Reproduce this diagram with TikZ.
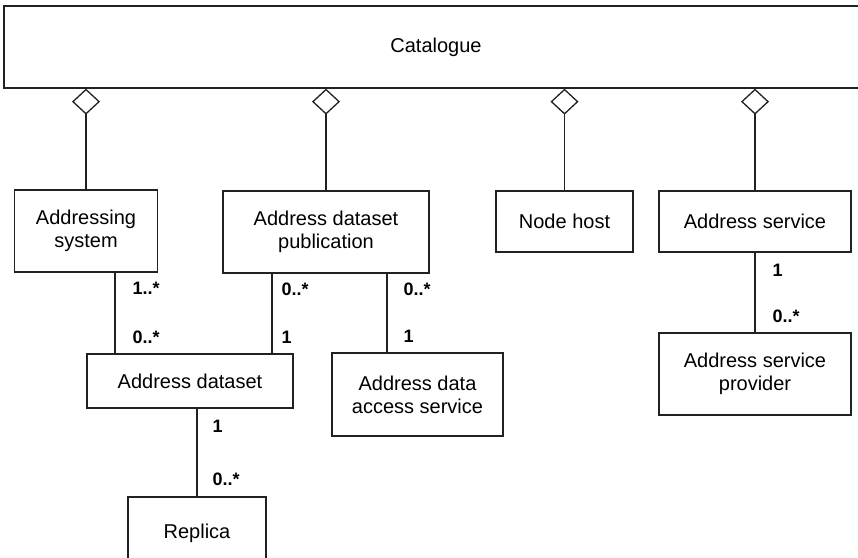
\documentclass[tikz,border=0pt]{standalone}
\usepackage{fontspec}
\setmainfont{Liberation Sans}
\usetikzlibrary{arrows.meta}

\begin{document}
\begin{tikzpicture}[x=1pt,y=-1pt,line cap=round,line width=1.3pt,
			cls/.style={draw=black!87,inner sep=0pt,align=center,
				font=\fontsize{20}{23}\selectfont},
			rel/.style={draw=black!87},
			agg/.style={rel,-{Diamond[open,length=26pt,width=28pt]}},
			mult/.style={font=\bfseries\fontsize{18}{20}\selectfont,
				inner sep=0pt,anchor=west}]
			\useasboundingbox (0,0) rectangle (858,557);
			\clip (0,0) rectangle (858,557);
			% classes
			\node[cls,minimum width=864pt,minimum height=82pt] (cat) at (436,47) {Catalogue};
			\node[cls,minimum width=143pt,minimum height=82pt] (sys) at (86,231) {Addressing\\system};
			\node[cls,minimum width=206pt,minimum height=82pt] (pub) at (326,232) {Address dataset\\publication};
			\node[cls,minimum width=137pt,minimum height=61pt] (host) at (564.5,221.5) {Node host};
			\node[cls,minimum width=192pt,minimum height=61pt] (svc) at (755,221.5) {Address service};
			\node[cls,minimum width=206pt,minimum height=54pt] (dset) at (190,381) {Address dataset};
			\node[cls,minimum width=171pt,minimum height=83pt] (acc) at (417.5,394.5) {Address data\\access service};
			\node[cls,minimum width=192pt,minimum height=82pt] (prov) at (755,374) {Address service\\provider};
			\node[cls,minimum width=138pt,minimum height=72pt] (rep) at (197,533) {Replica};
			% aggregations into the catalogue
			\foreach \C in {sys,pub,host,svc}
			{\draw[agg] (\C.north) -- (\C.north |- cat.south);}
			% associations
			\draw[rel] ([xshift=-75pt]dset.north) -- ([xshift=-75pt]dset.north |- sys.south)
				node[mult,pos=0.8,xshift=17pt]{1..*} node[mult,pos=0.2,xshift=17pt]{0..*};
			\draw[rel] ([xshift=82pt]dset.north) -- ([xshift=82pt]dset.north |- pub.south)
				node[mult,pos=0.8,xshift=9pt]{0..*} node[mult,pos=0.2,xshift=9pt]{1};
			\draw[rel] ([xshift=-30.5pt]acc.north) -- ([xshift=-30.5pt]acc.north |- pub.south)
				node[mult,pos=0.8,xshift=16pt]{0..*} node[mult,pos=0.2,xshift=16pt]{1};
			\draw[rel] (rep.north) -- (rep.north |- dset.south)
				node[mult,pos=0.8,xshift=15pt]{1} node[mult,pos=0.2,xshift=15pt]{0..*};
			\draw[rel] (prov.north) -- (prov.north |- svc.south)
				node[mult,pos=0.78,xshift=17pt]{1} node[mult,pos=0.2,xshift=17pt]{0..*};
\end{tikzpicture}
\end{document}
